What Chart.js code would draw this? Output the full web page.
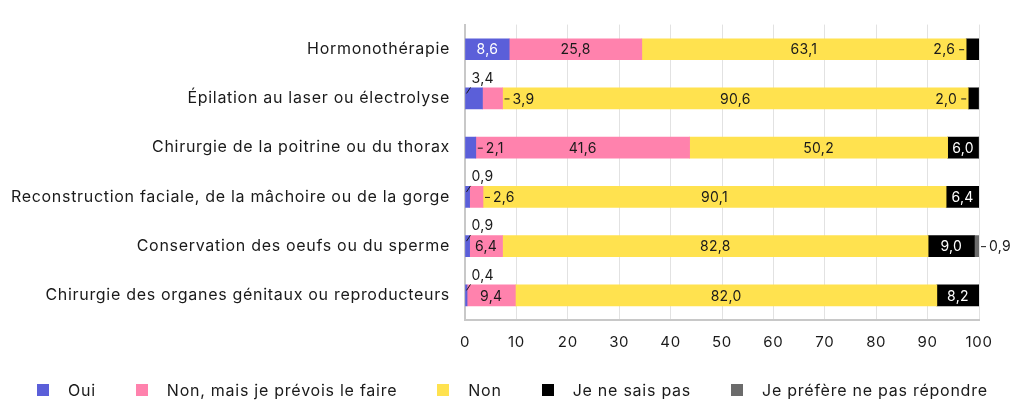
<!DOCTYPE html>
<html>
<head>
<meta charset="utf-8">
<script src="https://cdn.jsdelivr.net/npm/chart.js@4.4.0/dist/chart.umd.min.js"></script>
<style>
  body { margin: 0; background: #fff; }
  #wrap { position: relative; width: 1013px; height: 400px; overflow: hidden; }
  #legend { position: absolute; top: 380px; left: 37px; width: 990px; display: flex; align-items: center;
            font: 16px Inter, sans-serif; letter-spacing: 0.75px; color: #1a1a1a; white-space: nowrap; }
  #legend .item { display: flex; align-items: center; flex-shrink: 0; margin-right: 40px; }
  #legend .box { width: 12px; height: 12px; margin-right: 19px; flex-shrink: 0; }
</style>
</head>
<body>
<div id="wrap">
  <canvas id="chart" width="1013" height="400"></canvas>
  <div id="legend"></div>
</div>
<script>
const categories = [
  'Hormonothérapie',
  'Épilation au laser ou électrolyse',
  'Chirurgie de la poitrine ou du thorax',
  'Reconstruction faciale, de la mâchoire ou de la gorge',
  'Conservation des oeufs ou du sperme',
  'Chirurgie des organes génitaux ou reproducteurs'
];
const seriesNames = ['Oui', 'Non, mais je prévois le faire', 'Non', 'Je ne sais pas', 'Je préfère ne pas répondre'];
const oui     = [8.6, 3.4, 2.1, 0.9, 0.9, 0.4];
const nonMais = [25.8, 3.9, 41.6, 2.6, 6.4, 9.4];
const non     = [63.1, 90.6, 50.2, 90.1, 82.8, 82.0];
const nsp     = [2.6, 2.0, 6.0, 6.4, 9.0, 8.2];
const prefere = [0, 0, 0, 0, 0.9, 0];
const xTicks  = [0, 10, 20, 30, 40, 50, 60, 70, 80, 90, 100];

const colors = ['#5b5fd9', '#ff82ad', '#ffe24f', '#000000', '#6b6b6b'];
const textColors = ['#ffffff', '#1a1a1a', '#1a1a1a', '#ffffff', '#ffffff'];
const allSeries = [oui, nonMais, non, nsp, prefere];

function fmt(v) { return v.toFixed(1).replace('.', ','); }

// a bit of tracking for the axis texts, like the original
const spacing = {
  id: 'spacing',
  beforeLayout(chart) { chart.ctx.letterSpacing = '0.7px'; },
  beforeDraw(chart) { chart.ctx.letterSpacing = '0.7px'; }
};

// value labels, inside when they fit, otherwise outside with a little leader
const valueLabels = {
  id: 'valueLabels',
  afterDatasetsDraw(chart) {
    const ctx = chart.ctx;
    ctx.save();
    ctx.letterSpacing = '0.3px';
    ctx.font = '14px Inter, sans-serif';
    ctx.textBaseline = 'middle';
    ctx.strokeStyle = '#1a1a1a';
    ctx.lineWidth = 1;
    const metas = chart.data.datasets.map((ds, d) => chart.getDatasetMeta(d));
    categories.forEach((c, i) => {
      metas.forEach((meta, d) => {
        const v = chart.data.datasets[d].data[i];
        if (!v) return;
        const bar = meta.data[i];
        const txt = fmt(v);
        const tw = ctx.measureText(txt).width;
        const x0 = bar.base, x1 = bar.x, y = bar.y, w = x1 - x0;
        if (w >= tw + 6) {
          ctx.fillStyle = textColors[d];
          ctx.textAlign = 'center';
          ctx.fillText(txt, (x0 + x1) / 2, y + 1);
          return;
        }
        ctx.fillStyle = '#1a1a1a';
        let side = 'right';
        if (d === 3) side = 'left';
        if (d === 0) {
          const next = metas[1].data[i];
          const nv = chart.data.datasets[1].data[i];
          const nw = next.x - next.base;
          const ntw = ctx.measureText(fmt(nv)).width;
          const free = nw >= ntw + 6 ? (nw - ntw) / 2 : 0;
          if (free < tw + 14) side = 'above';
        }
        if (side === 'above') {
          ctx.beginPath();
          ctx.moveTo(x0 + 1, y - 5);
          ctx.lineTo(x0 + 5, y - 11);
          ctx.stroke();
          ctx.textAlign = 'left';
          ctx.fillText(txt, x0 + 6, y - 20);
        } else if (side === 'right') {
          ctx.beginPath();
          ctx.moveTo(x1 + 2, y + 0.5);
          ctx.lineTo(x1 + 7, y + 0.5);
          ctx.stroke();
          ctx.textAlign = 'left';
          ctx.fillText(txt, x1 + 10, y + 1);
        } else {
          ctx.beginPath();
          ctx.moveTo(x0 - 7, y + 0.5);
          ctx.lineTo(x0 - 2, y + 0.5);
          ctx.stroke();
          ctx.textAlign = 'right';
          ctx.fillText(txt, x0 - 11, y + 1);
        }
      });
    });
    ctx.restore();
  }
};

new Chart(document.getElementById('chart').getContext('2d'), {
  type: 'bar',
  data: {
    labels: categories,
    datasets: allSeries.map((data, d) => ({
      label: seriesNames[d],
      data: data,
      backgroundColor: colors[d],
      borderWidth: 0,
      barThickness: 21
    }))
  },
  options: {
    indexAxis: 'y',
    responsive: false,
    animation: false,
    layout: { padding: { top: 13, right: 34, left: 0, bottom: 0 } },
    plugins: { legend: { display: false }, tooltip: { enabled: false } },
    scales: {
      x: {
        stacked: true,
        min: 0, max: 100,
        afterBuildTicks: s => { s.ticks = xTicks.map(v => ({ value: v })); },
        afterFit: s => { s.height = 80; },
        grid: { color: '#e2e2e2', lineWidth: 1, drawTicks: false },
        border: { color: '#c8c8c8', width: 2 },
        ticks: { padding: 13, color: '#1a1a1a', font: { family: 'Inter', size: 15 } }
      },
      y: {
        stacked: true,
        afterFit: s => { s.width = 465; },
        grid: { display: false, drawTicks: false },
        border: { color: '#c8c8c8', width: 2 },
        ticks: { padding: 15, color: '#1a1a1a', font: { family: 'Inter', size: 16 } }
      }
    }
  },
  plugins: [spacing, valueLabels]
});

const legend = document.getElementById('legend');
seriesNames.forEach((name, d) => {
  const item = document.createElement('div');
  item.className = 'item';
  item.innerHTML = '<span class="box" style="background:' + colors[d] + '"></span><span>' + name + '</span>';
  legend.appendChild(item);
});
</script>
</body>
</html>
